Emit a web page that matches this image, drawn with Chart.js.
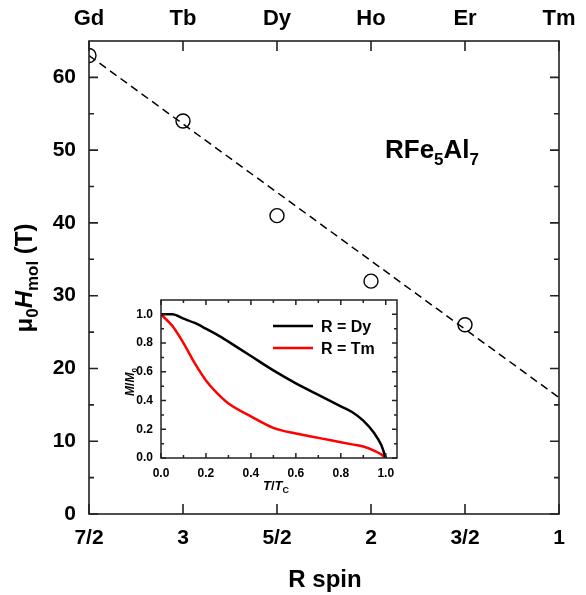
<!DOCTYPE html>
<html>
<head>
<meta charset="utf-8">
<script src="https://cdn.jsdelivr.net/npm/chart.js@4.4.1/dist/chart.umd.min.js"></script>
<style>
  body { margin: 0; background: #fff; }
  #wrap { position: relative; width: 586px; height: 595px; }
  #main { position: absolute; left: 0; top: 0; }
  #inset { position: absolute; left: 118px; top: 292px; }
</style>
</head>
<body>
<div id="wrap">
  <canvas id="main" width="586" height="595"></canvas>
  <canvas id="inset" width="290" height="204"></canvas>
</div>
<script>
// main panel: molecular field vs R spin
const spin = [3.5, 3, 2.5, 2, 1.5];
const field = [63, 54, 41, 32, 26];
const fitSpin = [3.5, 1];
const fitField = [63, 16];
const spinTicks = [3.5, 3, 2.5, 2, 1.5, 1];
const spinLabels = ['7/2', '3', '5/2', '2', '3/2', '1'];
const elements = ['Gd', 'Tb', 'Dy', 'Ho', 'Er', 'Tm'];
const fieldTicks = [0, 10, 20, 30, 40, 50, 60];

// inset: M/M0 vs T/Tc
const tRatio = [0, 0.05, 0.1, 0.15, 0.2, 0.27, 0.3, 0.4, 0.5, 0.6, 0.7, 0.8, 0.85, 0.9, 0.95, 0.98, 1.0];
const mDy =    [1.0, 1.0, 0.97, 0.94, 0.90, 0.84, 0.81, 0.71, 0.61, 0.52, 0.44, 0.36, 0.32, 0.26, 0.17, 0.09, 0.0];
const mTm =    [1.0, 0.92, 0.80, 0.66, 0.54, 0.42, 0.38, 0.29, 0.21, 0.17, 0.14, 0.11, 0.095, 0.08, 0.05, 0.025, 0.0];
const insetTicks = [0, 0.2, 0.4, 0.6, 0.8, 1.0];

const FONT = 'Arial, "Liberation Sans", sans-serif';

// frame + inward ticks
function frameTicks(specs, lw) {
  return {
    id: 'frameTicks',
    afterDraw(chart) {
      const ctx = chart.ctx, a = chart.chartArea;
      ctx.save();
      ctx.strokeStyle = '#222';
      ctx.lineWidth = lw;
      ctx.strokeRect(a.left, a.top, a.right - a.left, a.bottom - a.top);
      specs.forEach(s => {
        const sc = chart.scales[s.scale];
        s.values.forEach(v => {
          const p = sc.getPixelForValue(v);
          ctx.beginPath();
          if (s.dir === 'x') {
            ctx.moveTo(p, a.bottom); ctx.lineTo(p, a.bottom - s.len);
            ctx.moveTo(p, a.top); ctx.lineTo(p, a.top + s.len);
          } else {
            ctx.moveTo(a.left, p); ctx.lineTo(a.left + s.len, p);
            ctx.moveTo(a.right, p); ctx.lineTo(a.right - s.len, p);
          }
          ctx.stroke();
        });
      });
      ctx.restore();
    }
  };
}

// text run with subscripts: parts = [[text, style, size, dy]]
function drawRun(ctx, parts, x, y, align) {
  let w = 0;
  parts.forEach(p => { ctx.font = p[1] + ' ' + p[2] + 'px ' + FONT; w += ctx.measureText(p[0]).width; });
  let cx = align === 'center' ? x - w / 2 : x;
  parts.forEach(p => {
    ctx.font = p[1] + ' ' + p[2] + 'px ' + FONT;
    ctx.fillText(p[0], cx, y + (p[3] || 0));
    cx += ctx.measureText(p[0]).width;
  });
}

const mainLabels = {
  id: 'mainLabels',
  afterDraw(chart) {
    const ctx = chart.ctx;
    ctx.save();
    ctx.fillStyle = '#000';
    ctx.textBaseline = 'alphabetic';
    drawRun(ctx, [['R spin', 'bold', 24]], 325, 587, 'center');
    drawRun(ctx, [['RFe', 'bold', 26], ['5', 'bold', 17, 7], ['Al', 'bold', 26], ['7', 'bold', 17, 7]], 385, 158, 'left');
    ctx.translate(32, 278);
    ctx.rotate(-Math.PI / 2);
    drawRun(ctx, [['\u03bc', 'bold', 24], ['0', 'bold', 17, 6], ['H', 'italic bold', 24], ['mol', 'bold', 17, 6], [' (T)', 'bold', 24]], 0, 0, 'center');
    ctx.restore();
  }
};

const tickFont = { family: FONT, size: 21, weight: 'bold' };
const topFont = { family: FONT, size: 22, weight: 'bold' };

new Chart(document.getElementById('main'), {
  type: 'scatter',
  data: {
    datasets: [
      {
        data: fitSpin.map((s, i) => ({ x: s, y: fitField[i] })),
        showLine: true, borderColor: '#000', borderWidth: 1.5, borderDash: [8, 5],
        pointRadius: 0, fill: false
      },
      {
        data: spin.map((s, i) => ({ x: s, y: field[i] })),
        pointRadius: 7, pointBorderWidth: 1.4, pointBorderColor: '#000',
        pointBackgroundColor: 'rgba(255,255,255,0)'
      }
    ]
  },
  options: {
    responsive: false,
    animation: false,
    devicePixelRatio: 1,
    layout: { padding: { left: 0, right: 27, top: 0, bottom: 0 } },
    plugins: { legend: { display: false }, tooltip: { enabled: false } },
    scales: {
      x: {
        type: 'linear', position: 'bottom', min: 1, max: 3.5, reverse: true,
        grid: { display: false }, border: { display: false },
        afterBuildTicks: s => { s.ticks = spinTicks.map(v => ({ value: v })); },
        afterFit: s => { s.height = 81; },
        ticks: {
          color: '#000', font: tickFont, padding: 4, maxRotation: 0, autoSkip: false,
          callback: v => spinLabels[spinTicks.indexOf(v)]
        }
      },
      x2: {
        type: 'linear', position: 'top', min: 1, max: 3.5, reverse: true,
        grid: { display: false }, border: { display: false },
        afterBuildTicks: s => { s.ticks = spinTicks.map(v => ({ value: v })); },
        afterFit: s => { s.height = 41; },
        ticks: {
          color: '#000', font: topFont, padding: 1, maxRotation: 0, autoSkip: false,
          callback: v => elements[spinTicks.indexOf(v)]
        }
      },
      y: {
        type: 'linear', min: 0, max: 65,
        grid: { display: false }, border: { display: false },
        afterBuildTicks: s => { s.ticks = fieldTicks.map(v => ({ value: v })); },
        afterFit: s => { s.width = 89; },
        ticks: { color: '#000', font: tickFont, padding: 5 }
      }
    }
  },
  plugins: [
    frameTicks([
      { scale: 'x', dir: 'x', values: spinTicks, len: 10 },
      { scale: 'y', dir: 'y', values: fieldTicks, len: 9 },
      { scale: 'y', dir: 'y', values: [5, 15, 25, 35, 45, 55], len: 5 }
    ], 1.6),
    mainLabels
  ]
});

const insetLabels = {
  id: 'insetLabels',
  beforeDraw(chart) {
    const ctx = chart.ctx, a = chart.chartArea;
    ctx.save();
    ctx.fillStyle = '#fff';
    ctx.fillRect(a.left, a.top, a.right - a.left, a.bottom - a.top);
    ctx.restore();
  },
  afterDraw(chart) {
    const ctx = chart.ctx;
    ctx.save();
    ctx.fillStyle = '#000';
    ctx.textBaseline = 'alphabetic';
    drawRun(ctx, [['T', 'italic bold', 13], ['/', 'bold', 13], ['T', 'italic bold', 13], ['C', 'bold', 9, 3]], 158, 198, 'center');
    // legend
    const rows = [['R = Dy', '#000'], ['R = Tm', '#f00']];
    rows.forEach((r, i) => {
      const y = 34 + i * 22;
      ctx.strokeStyle = r[1];
      ctx.lineWidth = 2.5;
      ctx.beginPath(); ctx.moveTo(155, y); ctx.lineTo(195, y); ctx.stroke();
      drawRun(ctx, [[r[0], 'bold', 16]], 203, y + 6, 'left');
    });
    ctx.translate(16, 90);
    ctx.rotate(-Math.PI / 2);
    drawRun(ctx, [['M', 'italic bold', 12], ['/', 'bold', 12], ['M', 'italic bold', 12], ['0', 'bold', 8, 3]], 0, 0, 'center');
    ctx.restore();
  }
};

const insetFont = { family: FONT, size: 12, weight: 'bold' };

new Chart(document.getElementById('inset'), {
  type: 'line',
  data: {
    datasets: [
      { data: tRatio.map((t, i) => ({ x: t, y: mDy[i] })), borderColor: '#000', borderWidth: 2.5, pointRadius: 0, tension: 0.4, cubicInterpolationMode: 'monotone' },
      { data: tRatio.map((t, i) => ({ x: t, y: mTm[i] })), borderColor: '#f00', borderWidth: 2.5, pointRadius: 0, tension: 0.4, cubicInterpolationMode: 'monotone' }
    ]
  },
  options: {
    responsive: false,
    animation: false,
    devicePixelRatio: 1,
    layout: { padding: { left: 0, right: 11, top: 8, bottom: 0 } },
    plugins: { legend: { display: false }, tooltip: { enabled: false } },
    scales: {
      x: {
        type: 'linear', min: 0, max: 1.05,
        grid: { display: false }, border: { display: false },
        afterBuildTicks: s => { s.ticks = insetTicks.map(v => ({ value: v })); },
        afterFit: s => { s.height = 38; },
        ticks: { color: '#000', font: insetFont, padding: 0, maxRotation: 0, callback: v => v.toFixed(1) }
      },
      y: {
        type: 'linear', min: 0, max: 1.1,
        grid: { display: false }, border: { display: false },
        afterBuildTicks: s => { s.ticks = insetTicks.map(v => ({ value: v })); },
        afterFit: s => { s.width = 43; },
        ticks: { color: '#000', font: insetFont, padding: 0, callback: v => v.toFixed(1) }
      }
    }
  },
  plugins: [
    frameTicks([
      { scale: 'x', dir: 'x', values: insetTicks, len: 5 },
      { scale: 'x', dir: 'x', values: [0.1, 0.3, 0.5, 0.7, 0.9], len: 3 },
      { scale: 'y', dir: 'y', values: insetTicks, len: 5 },
      { scale: 'y', dir: 'y', values: [0.1, 0.3, 0.5, 0.7, 0.9], len: 3 }
    ], 1.5),
    insetLabels
  ]
});
</script>
</body>
</html>
